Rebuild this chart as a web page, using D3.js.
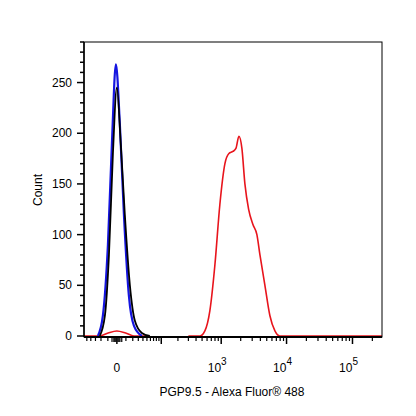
<!DOCTYPE html><html><head><meta charset="utf-8"><script src="https://cdn.jsdelivr.net/npm/d3@7"></script>
<style>body{margin:0;background:#fff}</style></head><body><svg id="c" width="416" height="416"></svg><script>
const yTicks=[0,50,100,150,200,250];
const xDecades=[3,4,5];
const black=[[-22,0],[-14,20],[-8.6,80],[-4,180],[0,245],[3.9,190],[8.6,120],[15.5,50],[23.6,15],[37.5,3],[58,0]];
const blue=[[-25.4,0],[-17,20],[-9.9,90],[-5.1,190],[-0.95,268],[2.9,210],[7.5,120],[14,40],[22,10],[37.5,0]];
const redLow=[[-58,0],[-22,0],[-9.6,3],[0,5],[9.6,3],[22,0],[58,0]];
const redHigh=[[300,0],[462,0],[554,5],[665,25],[797,70],[954,130],[1142,170],[1317,180],[1517,182],[1688,185],[1877,197],[2087,185],[2320,150],[2646,125],[3080,110],[3540,100],[3940,80],[4690,50],[5590,20],[6660,5],[7940,0],[280000,0]];
const svg=d3.select('#c');
const L=84,R=382,T=42,B=337;
const x=d3.scaleSymlog().constant(27).domain([-58,280000]).range([L,R]);
const y=d3.scaleLinear().domain([0,290]).range([B-1,T]);
const g=svg.append('g');
// y axis
for(let v=0;v<=290;v+=10){const yy=y(v);g.append('line').attr('x1',L).attr('x2',L-(v%50==0?7:4)).attr('y1',yy).attr('y2',yy).attr('stroke','#000').attr('stroke-width',1.5);}
yTicks.forEach(v=>g.append('text').attr('x',L-12).attr('y',y(v)+4).attr('text-anchor','end').attr('font-family','Liberation Sans,Arial').attr('font-size',12).text(v));
// x ticks
const minor=[-50,-40,-30,-20,-10,10,20,30,40,50,60,70,80,90];
for(let d=2;d<=5;d++)for(let m=2;m<=9;m++)minor.push(m*Math.pow(10,d));
minor.filter(v=>v>-58&&v<280000).forEach(v=>g.append('line').attr('x1',x(v)).attr('x2',x(v)).attr('y1',B).attr('y2',B+4).attr('stroke','#000').attr('stroke-width',1.2));
[-5,-3,-2,-1,1,2,3,5].forEach(v=>g.append('line').attr('x1',x(v)).attr('x2',x(v)).attr('y1',B).attr('y2',B+5).attr('stroke','#000').attr('stroke-width',1.2));
[0,100,1000,10000,100000].forEach(v=>g.append('line').attr('x1',x(v)).attr('x2',x(v)).attr('y1',B).attr('y2',B+7).attr('stroke','#000').attr('stroke-width',1.5));
g.append('text').attr('x',x(0)).attr('y',372).attr('text-anchor','middle').attr('font-family','Liberation Sans,Arial').attr('font-size',12).text('0');
xDecades.forEach(d=>{const t=g.append('text').attr('x',x(Math.pow(10,d))-4).attr('y',372).attr('text-anchor','middle').attr('font-family','Liberation Sans,Arial').attr('font-size',12);t.append('tspan').text('10');t.append('tspan').attr('dy',-7).attr('font-size',10).text(d);});
// lines
const line=d3.line().x(d=>x(d[0])).y(d=>y(d[1])).curve(d3.curveMonotoneX);
const clip=svg.append('clipPath').attr('id','cp').append('rect').attr('x',L).attr('y',T).attr('width',R-L).attr('height',B-T);
const pg=svg.append('g').attr('clip-path','url(#cp)');
pg.append('path').attr('d',line(redLow)).attr('fill','none').attr('stroke','#e8141c').attr('stroke-width',1.6);
pg.append('path').attr('d',line(redHigh)).attr('fill','none').attr('stroke','#e8141c').attr('stroke-width',1.6);
pg.append('path').attr('d',line(blue)).attr('fill','none').attr('stroke','#1515e0').attr('stroke-width',2.2);
pg.append('path').attr('d',line(black)).attr('fill','none').attr('stroke','#000').attr('stroke-width',1.8);
svg.append('rect').attr('x',L).attr('y',T).attr('width',R-L).attr('height',B-T).attr('fill','none').attr('stroke','#000').attr('stroke-width',1);
svg.append('line').attr('x1',L).attr('x2',R).attr('y1',B).attr('y2',B).attr('stroke','#000').attr('stroke-width',2);
svg.append('line').attr('x1',L).attr('x2',L).attr('y1',T).attr('y2',B).attr('stroke','#000').attr('stroke-width',1.5);
svg.append('text').attr('transform','translate(42,190) rotate(-90)').attr('text-anchor','middle').attr('font-family','Liberation Sans,Arial').attr('font-size',12).text('Count');
svg.append('text').attr('x',232).attr('y',396).attr('text-anchor','middle').attr('font-family','Liberation Sans,Arial').attr('font-size',12).text('PGP9.5 - Alexa Fluor® 488');
</script></body></html>
